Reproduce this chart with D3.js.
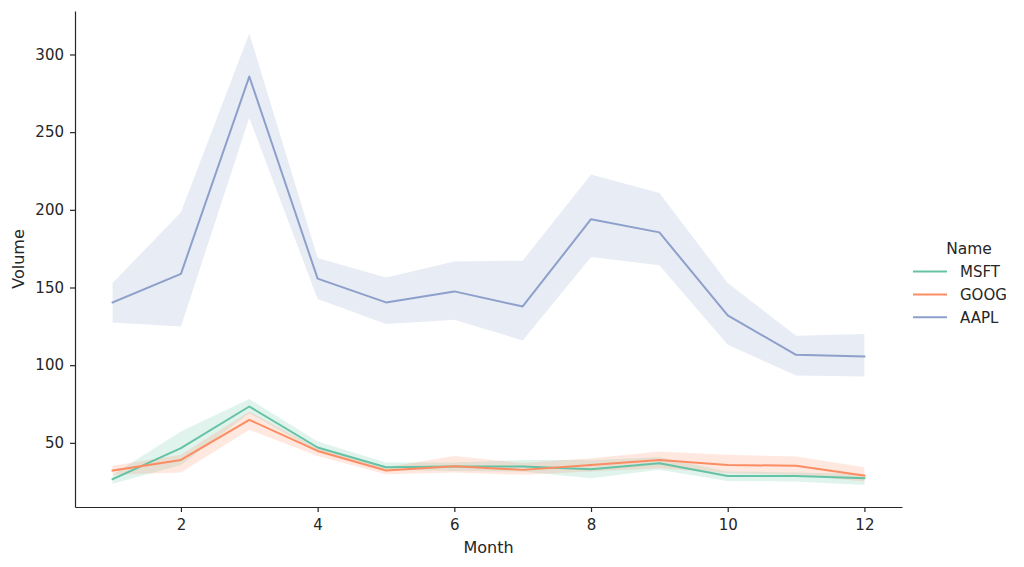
<!DOCTYPE html>
<html><head><meta charset="utf-8">
<script src="https://cdn.jsdelivr.net/npm/d3@7"></script>
<style>body{margin:0;background:#fff}svg{display:block}text{font-family:"DejaVu Sans",sans-serif;fill:#262626}</style>
</head><body><svg id="c" width="1024" height="567"></svg>
<script>
const months = [1,2,3,4,5,6,7,8,9,10,11,12];
const names = ["MSFT","GOOG","AAPL"];
const colors = ["#66c2a5","#fc8d62","#8da0cb"];
const msftMean = [26.6,46.6,73.4,47.0,34.3,34.7,34.7,33.0,36.9,28.7,28.7,27.2];
const msftLow  = [23.6,35.8,69.1,44.4,32.6,31.9,31.5,27.2,32.6,25.5,25.1,22.9];
const msftHigh = [29.4,57.3,78.2,50.8,37.3,37.3,39.0,39.0,40.8,31.5,30.9,30.0];
const googMean = [32.2,39.0,64.8,44.8,32.2,35.0,32.6,35.8,39.0,35.8,35.2,28.9];
const googLow  = [29.4,30.9,58.4,41.6,29.8,30.9,29.4,31.5,33.7,30.4,29.4,25.1];
const googHigh = [35.2,42.3,70.2,46.6,34.3,41.6,37.0,40.1,44.4,42.3,41.2,34.3];
const aaplMean = [140.4,158.8,285.8,155.7,140.4,147.5,137.8,194.0,185.5,132.0,106.7,105.6];
const aaplLow  = [127.5,124.9,259.2,142.6,126.5,129.3,115.9,169.6,164.3,113.1,93.4,92.7];
const aaplHigh = [152.9,198.4,313.5,169.0,156.5,166.8,167.3,222.7,210.9,152.9,118.9,120.0];
const xTicks = [2,4,6,8,10,12];
const yTicks = [50,100,150,200,250,300];

const series = [
  {name:names[0], mean:msftMean, low:msftLow, high:msftHigh, color:colors[0]},
  {name:names[1], mean:googMean, low:googLow, high:googHigh, color:colors[1]},
  {name:names[2], mean:aaplMean, low:aaplLow, high:aaplHigh, color:colors[2]}
];

const svg = d3.select("#c");
const L=75, R=902, T=11, B=507;
const x = d3.scaleLinear().domain([0.45,12.55]).range([L,R]);
const y = d3.scaleLinear().domain([8.7,328]).range([B,T]);

const area = d3.area().x((d,i)=>x(months[i])).y0(d=>y(d[0])).y1(d=>y(d[1]));
const line = d3.line().x((d,i)=>x(months[i])).y(d=>y(d));

series.forEach(s=>{
  svg.append("path").datum(s.low.map((v,i)=>[v,s.high[i]]))
    .attr("d",area).attr("fill",s.color).attr("fill-opacity",0.2).attr("stroke","none");
});
series.forEach(s=>{
  svg.append("path").datum(s.mean).attr("d",line).attr("fill","none")
    .attr("stroke",s.color).attr("stroke-width",2).attr("stroke-linejoin","round").attr("stroke-linecap","square");
});

const xa = svg.append("g").attr("transform",`translate(0,${B})`)
  .call(d3.axisBottom(x).tickValues(xTicks).tickSize(5).tickPadding(7).tickSizeOuter(0));
const ya = svg.append("g").attr("transform",`translate(${L},0)`)
  .call(d3.axisLeft(y).tickValues(yTicks).tickSize(5).tickPadding(6).tickSizeOuter(0));
[xa,ya].forEach(a=>{
  a.select(".domain").attr("stroke","#262626").attr("stroke-width",1.2);
  a.selectAll(".tick line").attr("stroke","#262626").attr("stroke-width",1.2);
  a.selectAll(".tick text").attr("font-size",15).attr("fill","#262626").style("font-family","DejaVu Sans");
});
svg.append("text").attr("x",(L+R)/2).attr("y",553).attr("text-anchor","middle").attr("font-size",16).text("Month");
svg.append("text").attr("transform",`translate(24,${(T+B)/2}) rotate(-90)`).attr("text-anchor","middle").attr("font-size",16).text("Volume");

const lg = svg.append("g");
lg.append("text").attr("x",969).attr("y",254).attr("text-anchor","middle").attr("font-size",15.5).text("Name");
series.forEach((s,i)=>{
  const yy = 271.5 + i*22.9;
  lg.append("line").attr("x1",913).attr("x2",947).attr("y1",yy).attr("y2",yy).attr("stroke",s.color).attr("stroke-width",2);
  lg.append("text").attr("x",960).attr("y",yy+5.5).attr("font-size",15).text(s.name);
});
</script></body></html>
